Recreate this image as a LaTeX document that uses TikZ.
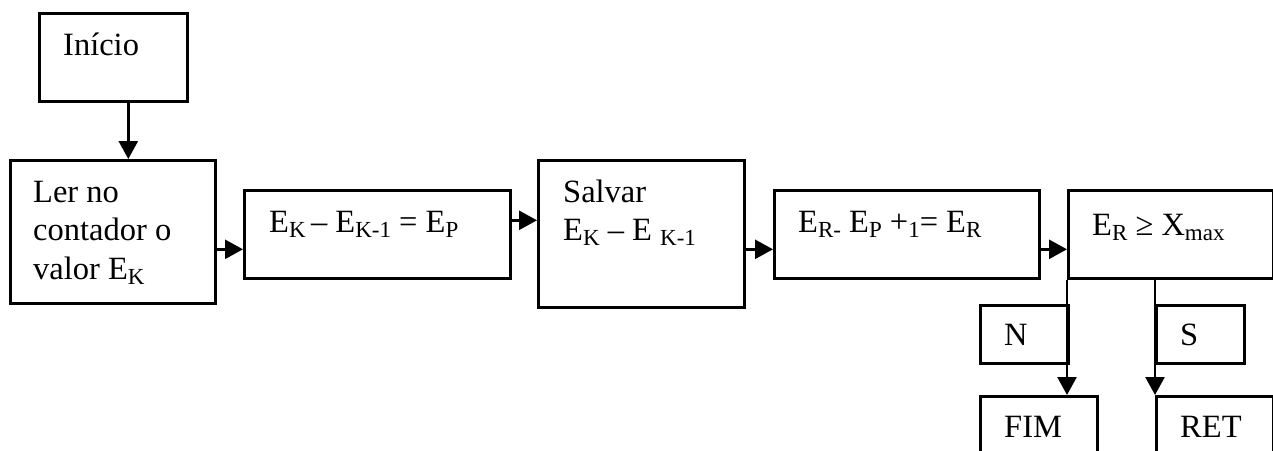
\documentclass[tikz,border=0pt]{standalone}
\usepackage{fontspec}
\setmainfont{Liberation Serif}
\usetikzlibrary{arrows.meta}
\newcommand{\sbs}[1]{\raisebox{-5pt}{\fontsize{23}{26}\selectfont #1}}
\tikzset{
  box/.style={draw, line width=2.6pt, rectangle, inner sep=0pt, anchor=north west},
  txt/.style={inner sep=0pt, anchor=base west, font=\fontsize{32.5}{38.5}\selectfont},
  arr/.style={line width=2.6pt, -{Triangle[length=18pt,width=19pt]}},
}
\begin{document}
\begin{tikzpicture}[x=1pt,y=-1pt]
\clip (0,0) rectangle (1273,450);
% boxes
\node[box, minimum width=148pt, minimum height=88pt] (inicio) at (38,12) {};
\node[box, minimum width=205pt, minimum height=143pt] (ler) at (9,159) {};
\node[box, minimum width=266pt, minimum height=88pt] (dif) at (243,189) {};
\node[box, minimum width=206pt, minimum height=147pt] (salvar) at (537,159) {};
\node[box, minimum width=265pt, minimum height=88pt] (er) at (773,189) {};
\node[box, minimum width=205pt, minimum height=88pt] (test) at (1067,189) {};
\node[box, minimum width=88pt, minimum height=58pt] (nbox) at (979,304) {};
\node[box, minimum width=88pt, minimum height=58pt] (sbox) at (1155,304) {};
\node[box, minimum width=117pt, minimum height=80pt] (fim) at (979,395) {};
\node[box, minimum width=117pt, minimum height=80pt] (ret) at (1155,395) {};
% texts
\node[txt] (tinicio) at (63,55) {Início};
\node[txt] (tler) at (33,202) {\begin{tabular}[t]{@{}l@{}}Ler no\\contador o\\valor E\sbs{K}\end{tabular}};
\node[txt] (tdif) at (269,232) {E\sbs{K}\,– E\sbs{K-1} = E\sbs{P}};
\node[txt] (tsalvar) at (563,202) {\begin{tabular}[t]{@{}l@{}}Salvar\\E\sbs{K} – E \sbs{K-1}\end{tabular}};
\node[txt] (ter) at (798,232) {E\sbs{R-} E\sbs{P} +\sbs{1}= E\sbs{R}};
\node[txt] (ttest) at (1092,235) {E\sbs{R} ≥ X\sbs{max}};
\node[txt] (tn) at (1004,345) {N};
\node[txt] (ts) at (1180,345) {S};
\node[txt] (tfim) at (1004,437) {FIM};
\node[txt] (tret) at (1180,437) {RET};
% connectors
\draw[arr] ([xshift=15pt]inicio.south) -- ([xshift=15pt]inicio.south |- ler.north);
\draw[arr] ([yshift=-17.5pt]ler.east) -- ([yshift=-17.5pt]ler.east -| dif.west);
\draw[arr] ([yshift=14pt]dif.east) -- ([yshift=14pt]dif.east -| salvar.west);
\draw[arr] ([yshift=-15.5pt]salvar.east) -- ([yshift=-15.5pt]salvar.east -| er.west);
\draw[arr] ([yshift=-15pt]er.east) -- ([yshift=-15pt]er.east -| test.west);
\draw[arr] (test.south west) -- (test.south west |- fim.north);
\draw[arr] (ret.north west |- test.south) -- (ret.north west);
\end{tikzpicture}
\end{document}
